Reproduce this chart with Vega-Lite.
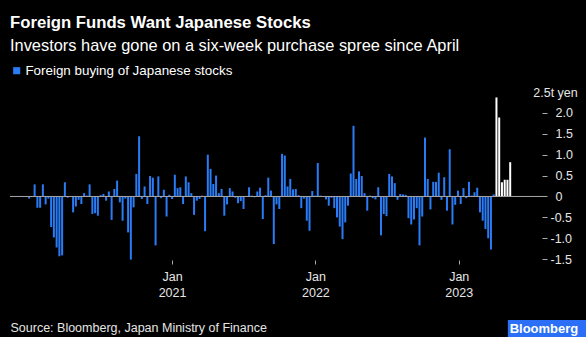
{
  "$schema": "https://vega.github.io/schema/vega-lite/v6.json",
  "width": 537,
  "height": 168,
  "autosize": {"type": "none"},
  "padding": {"left": 10, "top": 92, "right": 39, "bottom": 77},
  "background": "#000000",
  "config": {"view": {"stroke": null}, "font": "Liberation Sans", "axis": {"labelOverlap": false}},
  "title": {
    "text": "Foreign Funds Want Japanese Stocks",
    "subtitle": "Investors have gone on a six-week purchase spree since April",
    "anchor": "start",
    "frame": "group",
    "color": "#ffffff",
    "subtitleColor": "#ffffff",
    "fontSize": 16.7,
    "fontWeight": "bold",
    "subtitleFontSize": 16.4,
    "subtitlePadding": 6,
    "offset": 10
  },
  "layer": [
    {
      "data": {"values": [
        {"date": "2020-01-03", "value": -0.05, "series": "Foreign buying of Japanese stocks"},
        {"date": "2020-01-10", "value": 0.01, "series": "Foreign buying of Japanese stocks"},
        {"date": "2020-01-17", "value": 0.29, "series": "Foreign buying of Japanese stocks"},
        {"date": "2020-01-24", "value": -0.27, "series": "Foreign buying of Japanese stocks"},
        {"date": "2020-01-31", "value": -0.27, "series": "Foreign buying of Japanese stocks"},
        {"date": "2020-02-07", "value": 0.29, "series": "Foreign buying of Japanese stocks"},
        {"date": "2020-02-14", "value": -0.19, "series": "Foreign buying of Japanese stocks"},
        {"date": "2020-02-21", "value": -0.05, "series": "Foreign buying of Japanese stocks"},
        {"date": "2020-02-28", "value": -0.73, "series": "Foreign buying of Japanese stocks"},
        {"date": "2020-03-06", "value": -0.98, "series": "Foreign buying of Japanese stocks"},
        {"date": "2020-03-13", "value": -1.22, "series": "Foreign buying of Japanese stocks"},
        {"date": "2020-03-20", "value": -1.43, "series": "Foreign buying of Japanese stocks"},
        {"date": "2020-03-27", "value": -1.41, "series": "Foreign buying of Japanese stocks"},
        {"date": "2020-04-03", "value": 0.34, "series": "Foreign buying of Japanese stocks"},
        {"date": "2020-04-10", "value": -0.03, "series": "Foreign buying of Japanese stocks"},
        {"date": "2020-04-17", "value": 0.01, "series": "Foreign buying of Japanese stocks"},
        {"date": "2020-04-24", "value": -0.38, "series": "Foreign buying of Japanese stocks"},
        {"date": "2020-05-01", "value": -0.24, "series": "Foreign buying of Japanese stocks"},
        {"date": "2020-05-08", "value": -0.08, "series": "Foreign buying of Japanese stocks"},
        {"date": "2020-05-15", "value": -0.18, "series": "Foreign buying of Japanese stocks"},
        {"date": "2020-05-22", "value": 0.08, "series": "Foreign buying of Japanese stocks"},
        {"date": "2020-05-29", "value": 0.02, "series": "Foreign buying of Japanese stocks"},
        {"date": "2020-06-05", "value": 0.29, "series": "Foreign buying of Japanese stocks"},
        {"date": "2020-06-12", "value": -0.42, "series": "Foreign buying of Japanese stocks"},
        {"date": "2020-06-19", "value": -0.4, "series": "Foreign buying of Japanese stocks"},
        {"date": "2020-06-26", "value": -0.46, "series": "Foreign buying of Japanese stocks"},
        {"date": "2020-07-03", "value": 0.03, "series": "Foreign buying of Japanese stocks"},
        {"date": "2020-07-10", "value": 0.06, "series": "Foreign buying of Japanese stocks"},
        {"date": "2020-07-17", "value": -0.1, "series": "Foreign buying of Japanese stocks"},
        {"date": "2020-07-24", "value": 0.12, "series": "Foreign buying of Japanese stocks"},
        {"date": "2020-07-31", "value": -0.56, "series": "Foreign buying of Japanese stocks"},
        {"date": "2020-08-07", "value": 0.18, "series": "Foreign buying of Japanese stocks"},
        {"date": "2020-08-14", "value": 0.38, "series": "Foreign buying of Japanese stocks"},
        {"date": "2020-08-21", "value": -0.14, "series": "Foreign buying of Japanese stocks"},
        {"date": "2020-08-28", "value": -0.58, "series": "Foreign buying of Japanese stocks"},
        {"date": "2020-09-04", "value": -0.05, "series": "Foreign buying of Japanese stocks"},
        {"date": "2020-09-11", "value": -0.86, "series": "Foreign buying of Japanese stocks"},
        {"date": "2020-09-18", "value": -1.51, "series": "Foreign buying of Japanese stocks"},
        {"date": "2020-09-25", "value": -0.26, "series": "Foreign buying of Japanese stocks"},
        {"date": "2020-10-02", "value": 0.54, "series": "Foreign buying of Japanese stocks"},
        {"date": "2020-10-09", "value": 1.44, "series": "Foreign buying of Japanese stocks"},
        {"date": "2020-10-16", "value": -0.06, "series": "Foreign buying of Japanese stocks"},
        {"date": "2020-10-23", "value": 0.24, "series": "Foreign buying of Japanese stocks"},
        {"date": "2020-10-30", "value": -0.18, "series": "Foreign buying of Japanese stocks"},
        {"date": "2020-11-06", "value": 0.49, "series": "Foreign buying of Japanese stocks"},
        {"date": "2020-11-13", "value": 0.45, "series": "Foreign buying of Japanese stocks"},
        {"date": "2020-11-20", "value": -1.17, "series": "Foreign buying of Japanese stocks"},
        {"date": "2020-11-27", "value": 0.48, "series": "Foreign buying of Japanese stocks"},
        {"date": "2020-12-04", "value": -0.04, "series": "Foreign buying of Japanese stocks"},
        {"date": "2020-12-11", "value": 0.16, "series": "Foreign buying of Japanese stocks"},
        {"date": "2020-12-18", "value": -0.48, "series": "Foreign buying of Japanese stocks"},
        {"date": "2020-12-25", "value": 0.04, "series": "Foreign buying of Japanese stocks"},
        {"date": "2021-01-01", "value": -0.06, "series": "Foreign buying of Japanese stocks"},
        {"date": "2021-01-08", "value": 0.52, "series": "Foreign buying of Japanese stocks"},
        {"date": "2021-01-15", "value": 0.2, "series": "Foreign buying of Japanese stocks"},
        {"date": "2021-01-22", "value": 0.22, "series": "Foreign buying of Japanese stocks"},
        {"date": "2021-01-29", "value": -0.18, "series": "Foreign buying of Japanese stocks"},
        {"date": "2021-02-05", "value": 0.48, "series": "Foreign buying of Japanese stocks"},
        {"date": "2021-02-12", "value": 0.34, "series": "Foreign buying of Japanese stocks"},
        {"date": "2021-02-19", "value": 0.08, "series": "Foreign buying of Japanese stocks"},
        {"date": "2021-02-26", "value": -0.44, "series": "Foreign buying of Japanese stocks"},
        {"date": "2021-03-05", "value": -0.1, "series": "Foreign buying of Japanese stocks"},
        {"date": "2021-03-12", "value": -0.06, "series": "Foreign buying of Japanese stocks"},
        {"date": "2021-03-19", "value": 0.02, "series": "Foreign buying of Japanese stocks"},
        {"date": "2021-03-26", "value": -0.83, "series": "Foreign buying of Japanese stocks"},
        {"date": "2021-04-02", "value": 1.0, "series": "Foreign buying of Japanese stocks"},
        {"date": "2021-04-09", "value": 0.66, "series": "Foreign buying of Japanese stocks"},
        {"date": "2021-04-16", "value": 0.3, "series": "Foreign buying of Japanese stocks"},
        {"date": "2021-04-23", "value": 0.5, "series": "Foreign buying of Japanese stocks"},
        {"date": "2021-04-30", "value": 0.08, "series": "Foreign buying of Japanese stocks"},
        {"date": "2021-05-07", "value": 0.18, "series": "Foreign buying of Japanese stocks"},
        {"date": "2021-05-14", "value": -0.46, "series": "Foreign buying of Japanese stocks"},
        {"date": "2021-05-21", "value": -0.19, "series": "Foreign buying of Japanese stocks"},
        {"date": "2021-05-28", "value": 0.2, "series": "Foreign buying of Japanese stocks"},
        {"date": "2021-06-04", "value": 0.12, "series": "Foreign buying of Japanese stocks"},
        {"date": "2021-06-11", "value": -0.03, "series": "Foreign buying of Japanese stocks"},
        {"date": "2021-06-18", "value": -0.16, "series": "Foreign buying of Japanese stocks"},
        {"date": "2021-06-25", "value": -0.11, "series": "Foreign buying of Japanese stocks"},
        {"date": "2021-07-02", "value": -0.3, "series": "Foreign buying of Japanese stocks"},
        {"date": "2021-07-09", "value": 0.01, "series": "Foreign buying of Japanese stocks"},
        {"date": "2021-07-16", "value": 0.22, "series": "Foreign buying of Japanese stocks"},
        {"date": "2021-07-23", "value": 0.02, "series": "Foreign buying of Japanese stocks"},
        {"date": "2021-07-30", "value": -0.02, "series": "Foreign buying of Japanese stocks"},
        {"date": "2021-08-06", "value": 0.12, "series": "Foreign buying of Japanese stocks"},
        {"date": "2021-08-13", "value": 0.21, "series": "Foreign buying of Japanese stocks"},
        {"date": "2021-08-20", "value": -0.54, "series": "Foreign buying of Japanese stocks"},
        {"date": "2021-08-27", "value": 0.03, "series": "Foreign buying of Japanese stocks"},
        {"date": "2021-09-03", "value": 0.45, "series": "Foreign buying of Japanese stocks"},
        {"date": "2021-09-10", "value": 0.14, "series": "Foreign buying of Japanese stocks"},
        {"date": "2021-09-17", "value": -1.14, "series": "Foreign buying of Japanese stocks"},
        {"date": "2021-09-24", "value": -0.19, "series": "Foreign buying of Japanese stocks"},
        {"date": "2021-10-01", "value": -0.3, "series": "Foreign buying of Japanese stocks"},
        {"date": "2021-10-08", "value": 1.02, "series": "Foreign buying of Japanese stocks"},
        {"date": "2021-10-15", "value": 0.98, "series": "Foreign buying of Japanese stocks"},
        {"date": "2021-10-22", "value": 0.24, "series": "Foreign buying of Japanese stocks"},
        {"date": "2021-10-29", "value": 0.42, "series": "Foreign buying of Japanese stocks"},
        {"date": "2021-11-05", "value": 0.17, "series": "Foreign buying of Japanese stocks"},
        {"date": "2021-11-12", "value": 0.18, "series": "Foreign buying of Japanese stocks"},
        {"date": "2021-11-19", "value": 0.03, "series": "Foreign buying of Japanese stocks"},
        {"date": "2021-11-26", "value": -0.28, "series": "Foreign buying of Japanese stocks"},
        {"date": "2021-12-03", "value": -0.05, "series": "Foreign buying of Japanese stocks"},
        {"date": "2021-12-10", "value": -0.58, "series": "Foreign buying of Japanese stocks"},
        {"date": "2021-12-17", "value": -0.82, "series": "Foreign buying of Japanese stocks"},
        {"date": "2021-12-24", "value": 0.13, "series": "Foreign buying of Japanese stocks"},
        {"date": "2021-12-31", "value": 0.02, "series": "Foreign buying of Japanese stocks"},
        {"date": "2022-01-07", "value": 0.8, "series": "Foreign buying of Japanese stocks"},
        {"date": "2022-01-14", "value": 0.02, "series": "Foreign buying of Japanese stocks"},
        {"date": "2022-01-21", "value": 0.01, "series": "Foreign buying of Japanese stocks"},
        {"date": "2022-01-28", "value": -0.07, "series": "Foreign buying of Japanese stocks"},
        {"date": "2022-02-04", "value": -0.22, "series": "Foreign buying of Japanese stocks"},
        {"date": "2022-02-11", "value": -0.03, "series": "Foreign buying of Japanese stocks"},
        {"date": "2022-02-18", "value": -0.28, "series": "Foreign buying of Japanese stocks"},
        {"date": "2022-02-25", "value": -0.5, "series": "Foreign buying of Japanese stocks"},
        {"date": "2022-03-04", "value": -0.72, "series": "Foreign buying of Japanese stocks"},
        {"date": "2022-03-11", "value": -1.02, "series": "Foreign buying of Japanese stocks"},
        {"date": "2022-03-18", "value": -0.62, "series": "Foreign buying of Japanese stocks"},
        {"date": "2022-03-25", "value": -0.22, "series": "Foreign buying of Japanese stocks"},
        {"date": "2022-04-01", "value": 0.55, "series": "Foreign buying of Japanese stocks"},
        {"date": "2022-04-08", "value": 1.69, "series": "Foreign buying of Japanese stocks"},
        {"date": "2022-04-15", "value": 0.42, "series": "Foreign buying of Japanese stocks"},
        {"date": "2022-04-22", "value": 0.6, "series": "Foreign buying of Japanese stocks"},
        {"date": "2022-04-29", "value": 0.49, "series": "Foreign buying of Japanese stocks"},
        {"date": "2022-05-06", "value": 0.08, "series": "Foreign buying of Japanese stocks"},
        {"date": "2022-05-13", "value": -0.34, "series": "Foreign buying of Japanese stocks"},
        {"date": "2022-05-20", "value": 0.02, "series": "Foreign buying of Japanese stocks"},
        {"date": "2022-05-27", "value": -0.04, "series": "Foreign buying of Japanese stocks"},
        {"date": "2022-06-03", "value": -0.07, "series": "Foreign buying of Japanese stocks"},
        {"date": "2022-06-10", "value": 0.22, "series": "Foreign buying of Japanese stocks"},
        {"date": "2022-06-17", "value": -0.93, "series": "Foreign buying of Japanese stocks"},
        {"date": "2022-06-24", "value": -0.42, "series": "Foreign buying of Japanese stocks"},
        {"date": "2022-07-01", "value": -0.47, "series": "Foreign buying of Japanese stocks"},
        {"date": "2022-07-08", "value": 0.54, "series": "Foreign buying of Japanese stocks"},
        {"date": "2022-07-15", "value": 0.48, "series": "Foreign buying of Japanese stocks"},
        {"date": "2022-07-22", "value": 0.32, "series": "Foreign buying of Japanese stocks"},
        {"date": "2022-07-29", "value": -0.08, "series": "Foreign buying of Japanese stocks"},
        {"date": "2022-08-05", "value": 0.06, "series": "Foreign buying of Japanese stocks"},
        {"date": "2022-08-12", "value": 0.05, "series": "Foreign buying of Japanese stocks"},
        {"date": "2022-08-19", "value": 0.04, "series": "Foreign buying of Japanese stocks"},
        {"date": "2022-08-26", "value": -0.52, "series": "Foreign buying of Japanese stocks"},
        {"date": "2022-09-02", "value": -0.67, "series": "Foreign buying of Japanese stocks"},
        {"date": "2022-09-09", "value": -0.55, "series": "Foreign buying of Japanese stocks"},
        {"date": "2022-09-16", "value": -0.28, "series": "Foreign buying of Japanese stocks"},
        {"date": "2022-09-23", "value": -1.17, "series": "Foreign buying of Japanese stocks"},
        {"date": "2022-09-30", "value": -0.48, "series": "Foreign buying of Japanese stocks"},
        {"date": "2022-10-07", "value": 1.41, "series": "Foreign buying of Japanese stocks"},
        {"date": "2022-10-14", "value": 0.42, "series": "Foreign buying of Japanese stocks"},
        {"date": "2022-10-21", "value": -0.31, "series": "Foreign buying of Japanese stocks"},
        {"date": "2022-10-28", "value": 0.35, "series": "Foreign buying of Japanese stocks"},
        {"date": "2022-11-04", "value": 0.35, "series": "Foreign buying of Japanese stocks"},
        {"date": "2022-11-11", "value": 0.57, "series": "Foreign buying of Japanese stocks"},
        {"date": "2022-11-18", "value": -0.08, "series": "Foreign buying of Japanese stocks"},
        {"date": "2022-11-25", "value": 0.46, "series": "Foreign buying of Japanese stocks"},
        {"date": "2022-12-02", "value": -0.34, "series": "Foreign buying of Japanese stocks"},
        {"date": "2022-12-09", "value": 1.13, "series": "Foreign buying of Japanese stocks"},
        {"date": "2022-12-16", "value": -0.67, "series": "Foreign buying of Japanese stocks"},
        {"date": "2022-12-23", "value": -0.2, "series": "Foreign buying of Japanese stocks"},
        {"date": "2022-12-30", "value": 0.14, "series": "Foreign buying of Japanese stocks"},
        {"date": "2023-01-06", "value": -0.18, "series": "Foreign buying of Japanese stocks"},
        {"date": "2023-01-13", "value": 0.2, "series": "Foreign buying of Japanese stocks"},
        {"date": "2023-01-20", "value": -0.04, "series": "Foreign buying of Japanese stocks"},
        {"date": "2023-01-27", "value": 0.35, "series": "Foreign buying of Japanese stocks"},
        {"date": "2023-02-03", "value": 0.02, "series": "Foreign buying of Japanese stocks"},
        {"date": "2023-02-10", "value": 0.1, "series": "Foreign buying of Japanese stocks"},
        {"date": "2023-02-17", "value": 0.21, "series": "Foreign buying of Japanese stocks"},
        {"date": "2023-02-24", "value": -0.38, "series": "Foreign buying of Japanese stocks"},
        {"date": "2023-03-03", "value": -0.58, "series": "Foreign buying of Japanese stocks"},
        {"date": "2023-03-10", "value": -0.78, "series": "Foreign buying of Japanese stocks"},
        {"date": "2023-03-17", "value": -1.0, "series": "Foreign buying of Japanese stocks"},
        {"date": "2023-03-24", "value": -1.27, "series": "Foreign buying of Japanese stocks"},
        {"date": "2023-03-31", "value": 0.05, "series": "Foreign buying of Japanese stocks"},
        {"date": "2023-04-07", "value": 2.37, "series": "Since April"},
        {"date": "2023-04-14", "value": 1.89, "series": "Since April"},
        {"date": "2023-04-21", "value": 0.34, "series": "Since April"},
        {"date": "2023-04-28", "value": 0.4, "series": "Since April"},
        {"date": "2023-05-05", "value": 0.4, "series": "Since April"},
        {"date": "2023-05-12", "value": 0.82, "series": "Since April"}
      ]},
      "mark": {"type": "bar", "size": 2},
      "encoding": {
        "x": {
          "field": "date",
          "type": "temporal",
          "scale": {"type": "utc", "domain": [{"year": 2019, "month": 11, "date": 28, "utc": true}, {"year": 2023, "month": 8, "date": 1, "utc": true}]},
          "axis": {
            "values": [{"year": 2021, "month": 1, "date": 1, "utc": true}, {"year": 2022, "month": 1, "date": 1, "utc": true}, {"year": 2023, "month": 1, "date": 1, "utc": true}],
            "tickCount": 20,
            "labelExpr": "['Jan', utcFormat(datum.value, '%Y')]",
            "grid": false,
            "domain": false,
            "tickSize": 4,
            "tickColor": "#aaaaaa",
            "labelColor": "#e6e6e6",
            "labelFontSize": 12.5,
            "labelLineHeight": 16.5,
            "labelPadding": 6,
            "labelFlush": false,
            "labelOverlap": false,
            "title": "Source: Bloomberg, Japan Ministry of Finance",
            "titleAnchor": "start",
            "titleAlign": "left",
            "titleColor": "#e6e6e6",
            "titleFontSize": 12.5,
            "titleFontWeight": "normal",
            "titlePadding": 22
          }
        },
        "y": {
          "field": "value",
          "type": "quantitative",
          "scale": {"domain": [-1.52, 2.5], "nice": false, "zero": false},
          "axis": {
            "orient": "right",
            "values": [-1.5, -1, -0.5, 0, 0.5, 1, 1.5, 2, 2.5],
            "tickCount": 20,
            "title": null,
            "grid": false,
            "domain": false,
            "offset": -5,
            "tickSize": 5,
            "tickColor": "#aaaaaa",
            "tickOpacity": {"condition": {"test": "datum.value == 2.5", "value": 0}, "value": 1},
            "labelAlign": {"condition": {"test": "datum.value == 2.5", "value": "center"}, "value": "left"},
            "labelPadding": {"condition": {"test": "datum.value < 0", "value": 3}, "value": 8},
            "labelColor": "#e6e6e6",
            "labelFontSize": 12.5,
            "labelFlush": false,
            "labelOverlap": false,
            "labelBound": false,
            "labelExpr": "datum.value == 2.5 ? '2.5t yen' : datum.value == 0 ? '0' : replace(format(datum.value, '.1f'), '−', '-')"
          }
        },
        "color": {
          "field": "series",
          "type": "nominal",
          "scale": {"domain": ["Foreign buying of Japanese stocks", "Since April"], "range": ["#2a7cf6", "#ffffff"]},
          "legend": {
            "values": ["Foreign buying of Japanese stocks"],
            "title": null,
            "orient": "none",
            "legendX": 0,
            "legendY": -28,
            "padding": 0,
            "symbolType": "square",
            "symbolSize": 50,
            "symbolStrokeWidth": 0,
            "labelColor": "#ffffff",
            "labelFontSize": 13.4,
            "labelLimit": 0,
            "labelOffset": 2
          }
        }
      }
    },
    {
      "data": {"values": [{}]},
      "mark": {"type": "rule", "color": "#a6a6a6", "strokeWidth": 1},
      "encoding": {"y": {"datum": 0, "type": "quantitative"}}
    },
    {
      "data": {"values": [{}]},
      "mark": {"type": "rect", "color": "#2a6ff5"},
      "encoding": {
        "x": {"datum": {"year": 2023, "month": 5, "date": 6, "utc": true}, "type": "temporal"},
        "x2": {"datum": {"year": 2023, "month": 12, "date": 20, "utc": true}},
        "y": {"datum": -2.955, "type": "quantitative"},
        "y2": {"datum": -3.4}
      }
    },
    {
      "data": {"values": [{}]},
      "mark": {"type": "text", "text": "Bloomberg", "color": "#ffffff", "fontWeight": "bold", "fontSize": 13, "align": "center", "baseline": "middle"},
      "encoding": {
        "x": {"datum": {"year": 2023, "month": 8, "date": 6, "utc": true}, "type": "temporal"},
        "y": {"datum": -3.17, "type": "quantitative"}
      }
    }
  ]
}
